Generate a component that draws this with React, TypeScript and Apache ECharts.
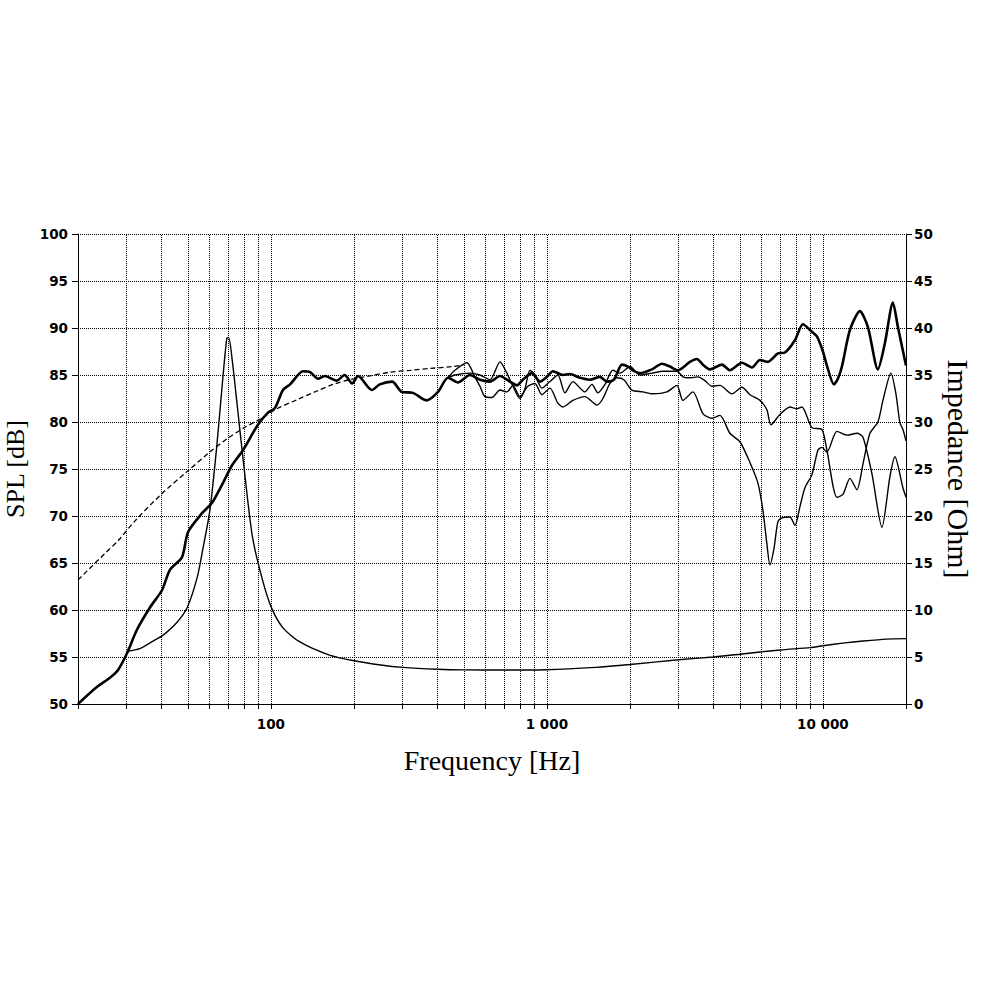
import React, { useEffect, useRef } from 'react';
import * as echarts from 'echarts';

// ---- Data (frequency in Hz, SPL in dB / impedance in Ohm) ----
const onAxisSPL: [number, number][] = [
  [20, 50.0], [23.4, 51.8], [26.1, 52.8], [27.9, 53.6], [30.1, 55.4], [32.7, 57.9], [36.5, 60.3],
  [40.3, 62.1], [43.1, 64.3], [47.6, 65.6], [50.1, 68.3], [56.3, 70.3], [61.2, 71.4], [67.0, 73.5],
  [72.3, 75.4], [79.2, 77.0], [89.7, 79.7], [97.6, 81.0], [103.5, 81.5], [110.6, 83.4], [117.3, 84.0],
  [130.7, 85.4], [138.6, 85.3], [148.2, 84.6], [157, 84.9], [173, 84.4], [185, 85.0], [197, 84.1],
  [207, 84.9], [232, 83.4], [248, 84.0], [275, 84.3], [298, 83.2], [327, 83.1], [367, 82.3],
  [403, 83.2], [438, 84.7], [476, 84.2], [526, 85.0], [572, 84.5], [622, 84.3], [676, 84.9],
  [734, 84.3], [779, 83.9], [818, 84.5], [882, 85.2], [943, 84.3], [1000, 84.8], [1051, 85.4],
  [1143, 85.0], [1212, 85.1], [1317, 84.7], [1431, 84.5], [1556, 84.8], [1650, 84.3], [1749, 84.5],
  [1870, 86.1], [1966, 85.9], [2049, 85.5], [2173, 85.2], [2401, 85.6], [2610, 86.2], [2791, 85.9],
  [2983, 85.5], [3298, 86.4], [3496, 86.7], [3675, 86.1], [3896, 85.6], [4306, 86.1], [4603, 85.5],
  [5088, 86.3], [5531, 85.8], [5913, 86.6], [6320, 86.4], [6871, 87.3], [7284, 87.4], [7918, 88.7],
  [8465, 90.4], [9123, 89.6], [9512, 89.1], [10000, 87.5], [10339, 86.0], [10960, 84.0], [11332, 84.6],
  [11718, 85.9], [12527, 89.8], [13615, 91.8], [14555, 90.1], [15823, 85.6], [16774, 88.4],
  [17932, 92.7], [18696, 90.1], [20000, 86.0],
];

const offAxisA: [number, number][] = [
  [438, 84.7], [464, 85.0], [526, 85.2], [572, 85.0], [622, 84.5], [676, 86.4], [716, 85.2],
  [753, 83.8], [798, 82.5], [832, 83.5], [868, 85.5], [905, 85.0], [959, 83.6], [1025, 84.3],
  [1096, 85.0], [1162, 83.1], [1242, 84.3], [1373, 83.2], [1456, 84.0], [1530, 83.1], [1623, 84.0],
  [1734, 85.5], [1839, 85.2], [2000, 85.9], [2173, 85.0], [2401, 85.2], [2632, 85.4], [2958, 85.4],
  [3111, 84.8], [3298, 84.7], [3525, 84.8], [3737, 84.4], [3962, 83.8], [4235, 83.9], [4681, 83.0],
  [5088, 83.7], [5439, 82.9], [5913, 82.3], [6268, 81.3], [6480, 79.7], [6986, 80.8], [7594, 81.6],
  [8052, 81.4], [8394, 81.6], [9123, 79.4], [9917, 79.2], [10339, 77.0], [11237, 72.0], [11817, 72.3],
  [12527, 74.0], [13281, 72.8], [13961, 75.5], [14800, 78.8], [15823, 80.0], [16498, 82.3],
  [17636, 85.2], [18388, 83.0], [19011, 79.9], [19494, 79.2], [20000, 78.0],
];

const offAxisB: [number, number][] = [
  [438, 84.7], [464, 85.5], [513, 86.3], [548, 84.8], [572, 83.8], [596, 82.7], [632, 82.6],
  [676, 83.4], [716, 83.2], [753, 83.9], [798, 82.7], [853, 83.8], [905, 84.1], [959, 82.9],
  [1025, 83.6], [1096, 82.0], [1143, 81.6], [1242, 82.3], [1373, 82.7], [1518, 81.8], [1596, 82.5],
  [1692, 84.1], [1793, 84.7], [1901, 84.5], [2032, 83.4], [2227, 83.2], [2421, 83.0], [2721, 83.2],
  [2958, 83.9], [3111, 82.3], [3381, 83.2], [3675, 80.9], [3962, 80.4], [4235, 80.7], [4603, 78.8],
  [5004, 77.9], [5439, 75.7], [5815, 73.5], [6062, 70.6], [6268, 67.0], [6427, 64.8], [6645, 66.5],
  [6871, 69.4], [7103, 69.8], [7594, 69.9], [7918, 69.0], [8256, 71.0], [8607, 73.0], [9123, 74.4],
  [9592, 77.0], [9917, 77.3], [10339, 76.8], [11237, 79.0], [12218, 78.6], [13281, 78.8],
  [13961, 78.4], [15048, 74.5], [16361, 68.8], [17490, 74.2], [18235, 76.3], [19494, 73.0],
  [20000, 72.0],
];

const impedanceOhm: [number, number][] = [
  [30.1, 5.6], [33.5, 5.9], [37.9, 6.8], [40.6, 7.3], [45.7, 8.7], [49.8, 10.3], [54.1, 13.5],
  [56.6, 16.4], [60.1, 20.6], [63.6, 27.3], [66.5, 33.7], [69.2, 38.9], [70.3, 39.0], [72.4, 36.6],
  [75.6, 31.6], [80.3, 24.6], [85.7, 17.8], [93.2, 13.2], [100.6, 10.2], [110.6, 8.1], [127.3, 6.6],
  [163, 5.2], [200, 4.6], [250, 4.15], [300, 3.9], [400, 3.7], [500, 3.63], [700, 3.62], [1000, 3.65],
  [1500, 3.9], [2000, 4.2], [3000, 4.7], [4000, 5.0], [5000, 5.3], [7000, 5.75], [9000, 6.0],
  [10000, 6.2], [12000, 6.5], [14000, 6.7], [17000, 6.9], [20000, 6.95],
];

const dashedSPL: [number, number][] = [
  [20, 63.2], [25, 66.0], [28, 67.4], [32, 69.4], [40, 72.3], [50, 74.8], [60, 76.8], [70, 78.3],
  [80, 79.4], [90, 80.2], [105, 81.4], [125, 82.4], [147, 83.3], [168, 84.0], [193, 84.5],
  [228, 84.9], [270, 85.3], [320, 85.5], [377, 85.7], [457, 85.9], [500, 86.1],
];

const xTickValues = [
  20, 30, 40, 50, 60, 70, 80, 90, 100, 200, 300, 400, 500, 600, 700, 800, 900,
  1000, 2000, 3000, 4000, 5000, 6000, 7000, 8000, 9000, 10000, 20000,
];
const xGridValues = [
  30, 40, 50, 60, 70, 80, 90, 100, 200, 300, 400, 500, 600, 700, 800, 900,
  1000, 2000, 3000, 4000, 5000, 6000, 7000, 8000, 9000, 10000,
];
const xLabelValues = [100, 1000, 10000];

const LABEL_FONT = {
  fontFamily: 'DejaVu Sans',
  fontWeight: 'bold' as const,
  fontSize: 13.5,
  color: '#000',
};
const NAME_FONT = 'Liberation Serif';

function fmtHz(v: number): string {
  if (v >= 1000) return `${Math.round(v / 1000)} 000`;
  return String(v);
}

export default function App() {
  const ref = useRef<HTMLDivElement>(null);

  useEffect(() => {
    if (!ref.current) return;
    const chart = echarts.init(ref.current, null, { renderer: 'svg' });
    const thin = { color: '#000', width: 1.4 };
    chart.setOption({
      animation: false,
      backgroundColor: '#fff',
      grid: { left: 78, right: 78, top: 234, bottom: 280, outerBoundsMode: 'none' },
      xAxis: {
        type: 'log',
        logBase: 10,
        min: 20,
        max: 20000,
        name: 'Frequency [Hz]',
        nameLocation: 'middle',
        nameGap: 42,
        nameTextStyle: { fontFamily: NAME_FONT, fontSize: 28, color: '#000' },
        axisLine: { show: true, onZero: false, lineStyle: { color: '#000', width: 1 } },
        axisTick: { show: true, length: 5, customValues: xTickValues, lineStyle: { color: '#000', width: 1 } },
        axisLabel: { ...LABEL_FONT, margin: 13, customValues: xLabelValues, formatter: (v: number) => fmtHz(v) },
        splitLine: { show: false },
      },
      yAxis: [
        {
          type: 'value',
          position: 'left',
          min: 50,
          max: 100,
          interval: 5,
          name: 'SPL [dB]',
          nameLocation: 'middle',
          nameGap: 46,
          nameTextStyle: { fontFamily: NAME_FONT, fontSize: 26, color: '#000' },
          axisLine: { show: true, lineStyle: { color: '#000', width: 1 } },
          axisTick: { show: true, length: 6, lineStyle: { color: '#000', width: 1 } },
          axisLabel: { ...LABEL_FONT, margin: 10 },
          splitLine: { show: true, lineStyle: { color: '#000', width: 1, type: 'dotted' } },
        },
        {
          type: 'value',
          position: 'right',
          min: 0,
          max: 50,
          interval: 5,
          name: 'Impedance [Ohm]',
          nameLocation: 'middle',
          nameRotate: -90,
          nameGap: 35,
          nameTextStyle: { fontFamily: NAME_FONT, fontSize: 30, color: '#000' },
          axisLine: { show: true, lineStyle: { color: '#000', width: 1 } },
          axisTick: { show: true, length: 6, lineStyle: { color: '#000', width: 1 } },
          axisLabel: { ...LABEL_FONT, margin: 8 },
          splitLine: { show: false },
        },
      ],
      series: [
        {
          name: 'grid',
          type: 'line',
          data: [],
          silent: true,
          z: 1,
          markLine: {
            silent: true,
            symbol: ['none', 'none'],
            label: { show: false },
            z: 1,
            lineStyle: { color: '#000', width: 1, type: 'dotted' },
            emphasis: { disabled: true },
            data: xGridValues.map((v) => ({ xAxis: v })),
          },
        },
        {
          name: 'Impedance',
          type: 'line',
          yAxisIndex: 1,
          data: impedanceOhm,
          showSymbol: false,
          symbol: 'none',
          smooth: 0.25,
          z: 3,
          lineStyle: thin,
        },
        {
          name: 'Reference',
          type: 'line',
          data: dashedSPL,
          showSymbol: false,
          symbol: 'none',
          smooth: 0.3,
          z: 3,
          lineStyle: { color: '#000', width: 1.3, type: [5, 3] },
        },
        {
          name: 'Off-axis A',
          type: 'line',
          data: offAxisA,
          showSymbol: false,
          symbol: 'none',
          smooth: 0.25,
          z: 3,
          lineStyle: thin,
        },
        {
          name: 'Off-axis B',
          type: 'line',
          data: offAxisB,
          showSymbol: false,
          symbol: 'none',
          smooth: 0.25,
          z: 3,
          lineStyle: thin,
        },
        {
          name: 'On-axis',
          type: 'line',
          data: onAxisSPL,
          showSymbol: false,
          symbol: 'none',
          smooth: 0.25,
          z: 4,
          lineStyle: { color: '#000', width: 2.6 },
        },
      ],
    });
    return () => chart.dispose();
  }, []);

  return (
    <div
      ref={ref}
      style={{ position: 'fixed', left: 0, top: 0, width: 984, height: 984, background: '#fff' }}
    />
  );
}
